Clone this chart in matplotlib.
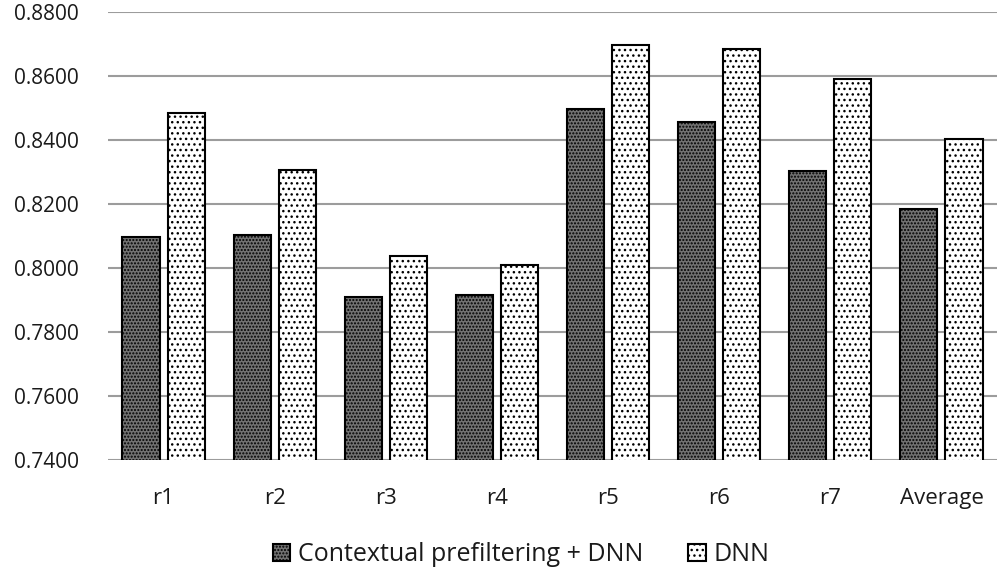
import matplotlib
matplotlib.use("Agg")
import matplotlib.pyplot as plt
import numpy as np

categories = ["r1", "r2", "r3", "r4", "r5", "r6", "r7", "Average"]
contextual = [0.8097, 0.8102, 0.7909, 0.7915, 0.8497, 0.8455, 0.8303, 0.8186]
dnn = [0.8485, 0.8308, 0.8038, 0.8008, 0.8697, 0.8685, 0.8592, 0.8402]
yticks = [0.74, 0.76, 0.78, 0.80, 0.82, 0.84, 0.86, 0.88]

plt.rcParams['font.family'] = ['Open Sans', 'DejaVu Sans']
plt.rcParams['hatch.linewidth'] = 1.0

fig = plt.figure(figsize=(10, 5.76), dpi=100)
ax = fig.add_axes([0.108, 0.2014, 0.889, 0.7776])

x = np.arange(len(categories))
w = 0.335
off = 0.203
b1 = ax.bar(x - off, contextual, w, facecolor='#727272', edgecolor='black',
            linewidth=1.5, hatch='.....', label='Contextual prefiltering + DNN', zorder=3)
b2 = ax.bar(x + off, dnn, w, facecolor='white', edgecolor='black',
            linewidth=1.5, hatch='...', label='DNN', zorder=3)

ax.set_ylim(0.74, 0.88)
ax.set_xlim(-0.5, len(categories) - 0.5)
ax.set_yticks(yticks)
ax.set_yticklabels([f"{v:.4f}" for v in yticks])
ax.set_xticks(x)
ax.set_xticklabels(categories)
ax.grid(axis='y', color='#9c9c9c', linewidth=1.5, zorder=0)
for s in ax.spines.values():
    s.set_visible(False)
ax.tick_params(axis='both', length=0, colors='#1a1a1a')
ax.tick_params(axis='x', pad=20, labelsize=16)
ax.tick_params(axis='y', pad=21, labelsize=15)

fig.legend(handles=[b1, b2], loc='center', bbox_to_anchor=(0.521, 0.0365), ncol=2,
           frameon=False, fontsize=18, handlelength=0.7, handleheight=0.7,
           handletextpad=0.3, columnspacing=1.8, labelcolor='#1a1a1a')

fig.savefig("out.png", dpi=100)
